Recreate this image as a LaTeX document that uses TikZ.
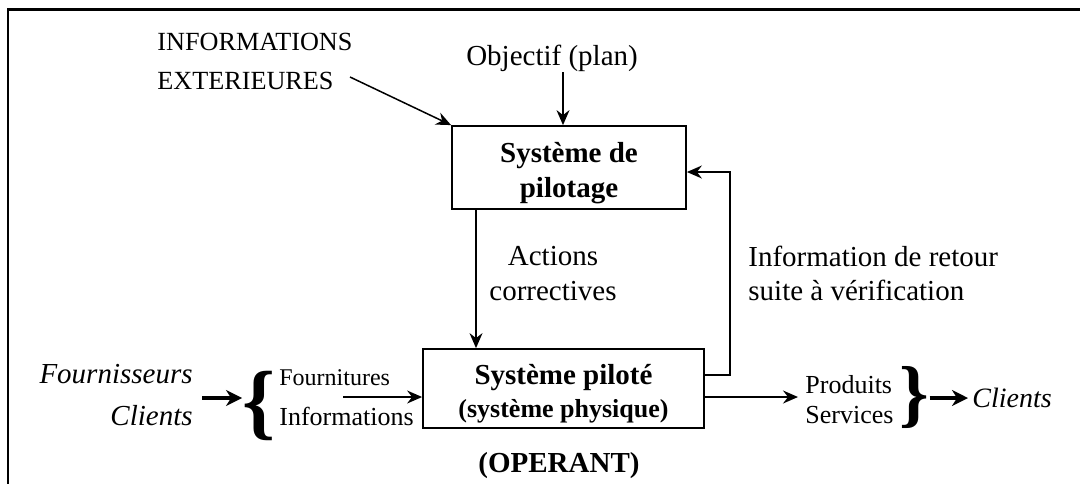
\documentclass[tikz,border=0pt]{standalone}
\usepackage{fontspec}
\setmainfont{Liberation Serif}
\usetikzlibrary{arrows.meta,calc}
\begin{document}
\begin{tikzpicture}[x=0.5pt,y=-0.5pt,
  box/.style={draw,line width=0.9pt,inner sep=0pt},
  flow/.style={line width=0.75pt,-{Stealth[length=7.5pt,width=6.5pt,inset=2.5pt]}},
  bold flow/.style={line width=1.7pt,-{Stealth[length=8pt,width=8pt,inset=2.5pt]}},
  txt/.style={inner sep=0pt},
  body/.style={font=\fontsize{14.5}{17}\selectfont},
]
\useasboundingbox (0,0) rectangle (1080,484);

% open frame: top and left edges
\draw[line width=1.5pt] (7,9.5) -- (1080,9.5);
\draw[line width=1pt] (8,9.5) -- (8,484);

% the two main blocks
\node[box, minimum width=117pt, minimum height=41.5pt,
      font=\fontsize{14.5}{17.5}\selectfont\bfseries] (pilot) at (569,167.5)
      {\raisebox{-2.5pt}[\height][\depth]{\begin{tabular}{@{}c@{}}Système de\\pilotage\end{tabular}}};
\node[box, minimum width=140.5pt, minimum height=39.5pt,
      font=\fontsize{14.5}{16.5}\selectfont\bfseries] (oper) at (563.5,388.5)
      {\raisebox{-2.7pt}[\height][\depth]{\begin{tabular}{@{}c@{}}Système piloté\\{\fontsize{13}{16.5}\selectfont (système physique)}\end{tabular}}};
\node[txt, anchor=base, font=\fontsize{14.5}{17}\selectfont\bfseries] (operant) at (559,472) {(OPERANT)};

% inputs of the control system
\node[txt, anchor=west, align=left, font=\fontsize{13.1}{19.5}\selectfont] (ext) at (157,61) {INFORMATIONS\\EXTERIEURES};
\coordinate (extend) at (350,77);
\draw[flow] (extend) -- (pilot.north west);

\node[txt, body] (obj) at (552,58) {Objectif (plan)};
\coordinate (objfoot) at (563,72);
\draw[flow] (objfoot) -- (objfoot |- pilot.north);

% corrective actions
\coordinate (actx) at (476,0);
\draw[flow] (actx |- pilot.south) -- (actx |- oper.north);
\node[txt, align=center, font=\fontsize{14.5}{17.5}\selectfont] (act) at (553,274) {Actions\\correctives};

% feedback loop
\coordinate (fbtop) at (730,172);
\coordinate (fbbot) at (730,375);
\draw[flow] (fbbot -| oper.east) -- (fbbot) -- (fbtop) -- (fbtop -| pilot.east);
\node[txt, anchor=west, align=left, body] (retour) at (748,273) {Information de retour\\suite à vérification};

% left side: suppliers and clients
\node[txt, anchor=base east, font=\fontsize{14.5}{17}\selectfont\itshape] (fourn) at (193,383) {Fournisseurs};
\node[txt, anchor=base east, font=\fontsize{14.5}{17}\selectfont\itshape] (cli) at (193,425) {Clients};
\node[txt, font=\fontsize{42}{42}\selectfont\bfseries] (lbrace) at (259,405.5) {\{};
\coordinate (inarr) at (202,398);
\draw[bold flow] (inarr) -- (inarr -| lbrace.west);
\node[txt, anchor=base west, font=\fontsize{12}{14}\selectfont] (fourni) at (279,385) {Fournitures};
\node[txt, anchor=base west, font=\fontsize{13}{15}\selectfont] (infos) at (279,425) {Informations};
\coordinate (fin) at (343,397);
\draw[flow] (fin) -- (fin -| oper.west);

% right side: outputs
\coordinate (fout) at (798,397);
\draw[flow] (fout -| oper.east) -- (fout);
\node[txt, anchor=base west, font=\fontsize{13}{15}\selectfont] (prod) at (805,393) {Produits};
\node[txt, anchor=base west, font=\fontsize{13}{15}\selectfont] (serv) at (805,423) {Services};
\node[txt, font=\fontsize{37.5}{37.5}\selectfont\bfseries] (rbrace) at (914.5,397.5) {\}};
\coordinate (outarr) at (968,398);
\draw[bold flow] (outarr -| rbrace.east) -- (outarr);
\node[txt, anchor=base west, font=\fontsize{14}{17}\selectfont\itshape] (cliout) at (972,407) {Clients};
\end{tikzpicture}
\end{document}
